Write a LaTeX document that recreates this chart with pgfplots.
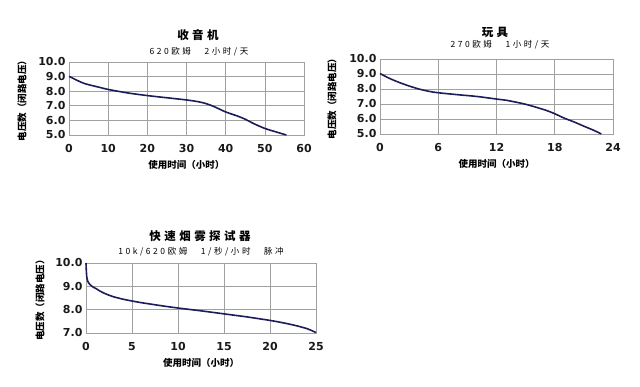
\documentclass[border=0pt]{standalone}
\usepackage{pgfplots}
\pgfplotsset{compat=1.18}
\usepackage{fontspec}
\setmainfont{DejaVu Sans}
\newfontfamily\cjk{Noto Sans CJK SC}
\newfontfamily\cjkls{Noto Sans CJK SC}[LetterSpace=30]
\newfontfamily\cjkt{Noto Sans CJK SC}[LetterSpace=30]
\definecolor{curve}{HTML}{1C1C5A}
\definecolor{gridc}{HTML}{A0A0A0}
\pgfplotsset{
  bat/.style={
    scale only axis, anchor=south west,
    axis line style={gridc, line width=0.8pt},
    grid=major, major grid style={gridc, line width=0.6pt},
    major tick length=0pt,
    tick label style={font=\bfseries\fontsize{11}{11}\selectfont, text=black!90},
    /pgf/number format/assume math mode=true,
    yticklabel style={/pgf/number format/.cd, fixed, fixed zerofill, precision=1},
    xticklabel style={yshift=-6pt},
    xlabel style={font=\cjk\bfseries\fontsize{9.5}{10}\selectfont, yshift=-1pt},
    xlabel={使用时间（小时）},
    clip=false,
  },
  ylab/.style={every axis y label/.style={
    at={([xshift=-#1]axis description cs:0,0.5)}, rotate=90, anchor=center,
    font=\cjk\bfseries\fontsize{9.5}{10}\selectfont},
    ylabel={电压数（闭路电压）}}
}
\begin{document}
\begin{tikzpicture}
\useasboundingbox (0pt,0pt) rectangle (640pt,387pt);
% chart 1
\begin{axis}[bat, ylab=47pt, at={(69pt,252pt)}, width=235pt, height=73pt,
  xmin=0, xmax=60, ymin=5, ymax=10, xtick={0,10,...,60}, ytick={5,6,...,10}]
\addplot[curve, line width=1.6pt, smooth] coordinates {
(0,9.02) (2,8.75) (4,8.52) (6,8.38) (8,8.25) (10,8.12) (15,7.88) (20,7.7)
(25,7.55) (30,7.4) (33,7.28) (35,7.15) (37,6.95) (40,6.58) (43,6.3) (45,6.08)
(47,5.8) (50,5.45) (53,5.2) (55.5,5.0)};
\end{axis}
% chart 2
\begin{axis}[bat, ylab=48pt, at={(380pt,253pt)}, width=233pt, height=75pt,
  xmin=0, xmax=24, ymin=5, ymax=10, xtick={0,6,...,24}, ytick={5,6,...,10}]
\addplot[curve, line width=1.6pt, smooth] coordinates {
(0,9.03) (1,8.7) (2,8.43) (3,8.2) (4,8.0) (5,7.85) (6,7.75) (8,7.62) (10,7.5)
(12,7.33) (13,7.25) (15,6.98) (17,6.6) (18,6.35) (19,6.05) (20,5.8) (21,5.52)
(22,5.25) (22.8,5.0)};
\end{axis}
% chart 3
\begin{axis}[bat, ylab=46pt, at={(86pt,54pt)}, width=230pt, height=70pt,
  xmin=0, xmax=25, ymin=7, ymax=10, xtick={0,5,...,25}, ytick={7,8,9,10}]
\addplot[curve, line width=1.6pt] coordinates {
(0,10.0) (0.03,9.7) (0.07,9.45) (0.12,9.32) (0.2,9.21) (0.35,9.11) (0.55,9.03)
(0.8,8.96) (1.1,8.9) (1.5,8.8) (2,8.7) (2.5,8.62) (3,8.55) (4,8.45) (5,8.37)
(6,8.3) (7,8.24) (8.5,8.15) (10,8.07) (12.5,7.95) (15,7.82) (17.5,7.69)
(20,7.54) (21,7.47) (22,7.39) (23,7.3) (24,7.19) (24.5,7.11) (25,7.02)};
\end{axis}
% titles
\node[font=\cjkt\bfseries\fontsize{11.5}{11.5}\selectfont] at (198pt,352pt) {收音机};
\node[font=\cjkls\fontsize{8.5}{8.5}\selectfont] at (199pt,335pt) {620欧姆　2小时/天};
\node[font=\cjkt\bfseries\fontsize{11.5}{11.5}\selectfont] at (495pt,355pt) {玩具};
\node[font=\cjkls\fontsize{8.5}{8.5}\selectfont] at (500pt,342pt) {270欧姆　1小时/天};
\node[font=\cjkt\bfseries\fontsize{11.5}{11.5}\selectfont] at (200pt,151pt) {快速烟雾探试器};
\node[font=\cjkls\fontsize{8.5}{8.5}\selectfont] at (201pt,135pt) {10k/620欧姆　1/秒/小时　脉冲};
\end{tikzpicture}
\end{document}
